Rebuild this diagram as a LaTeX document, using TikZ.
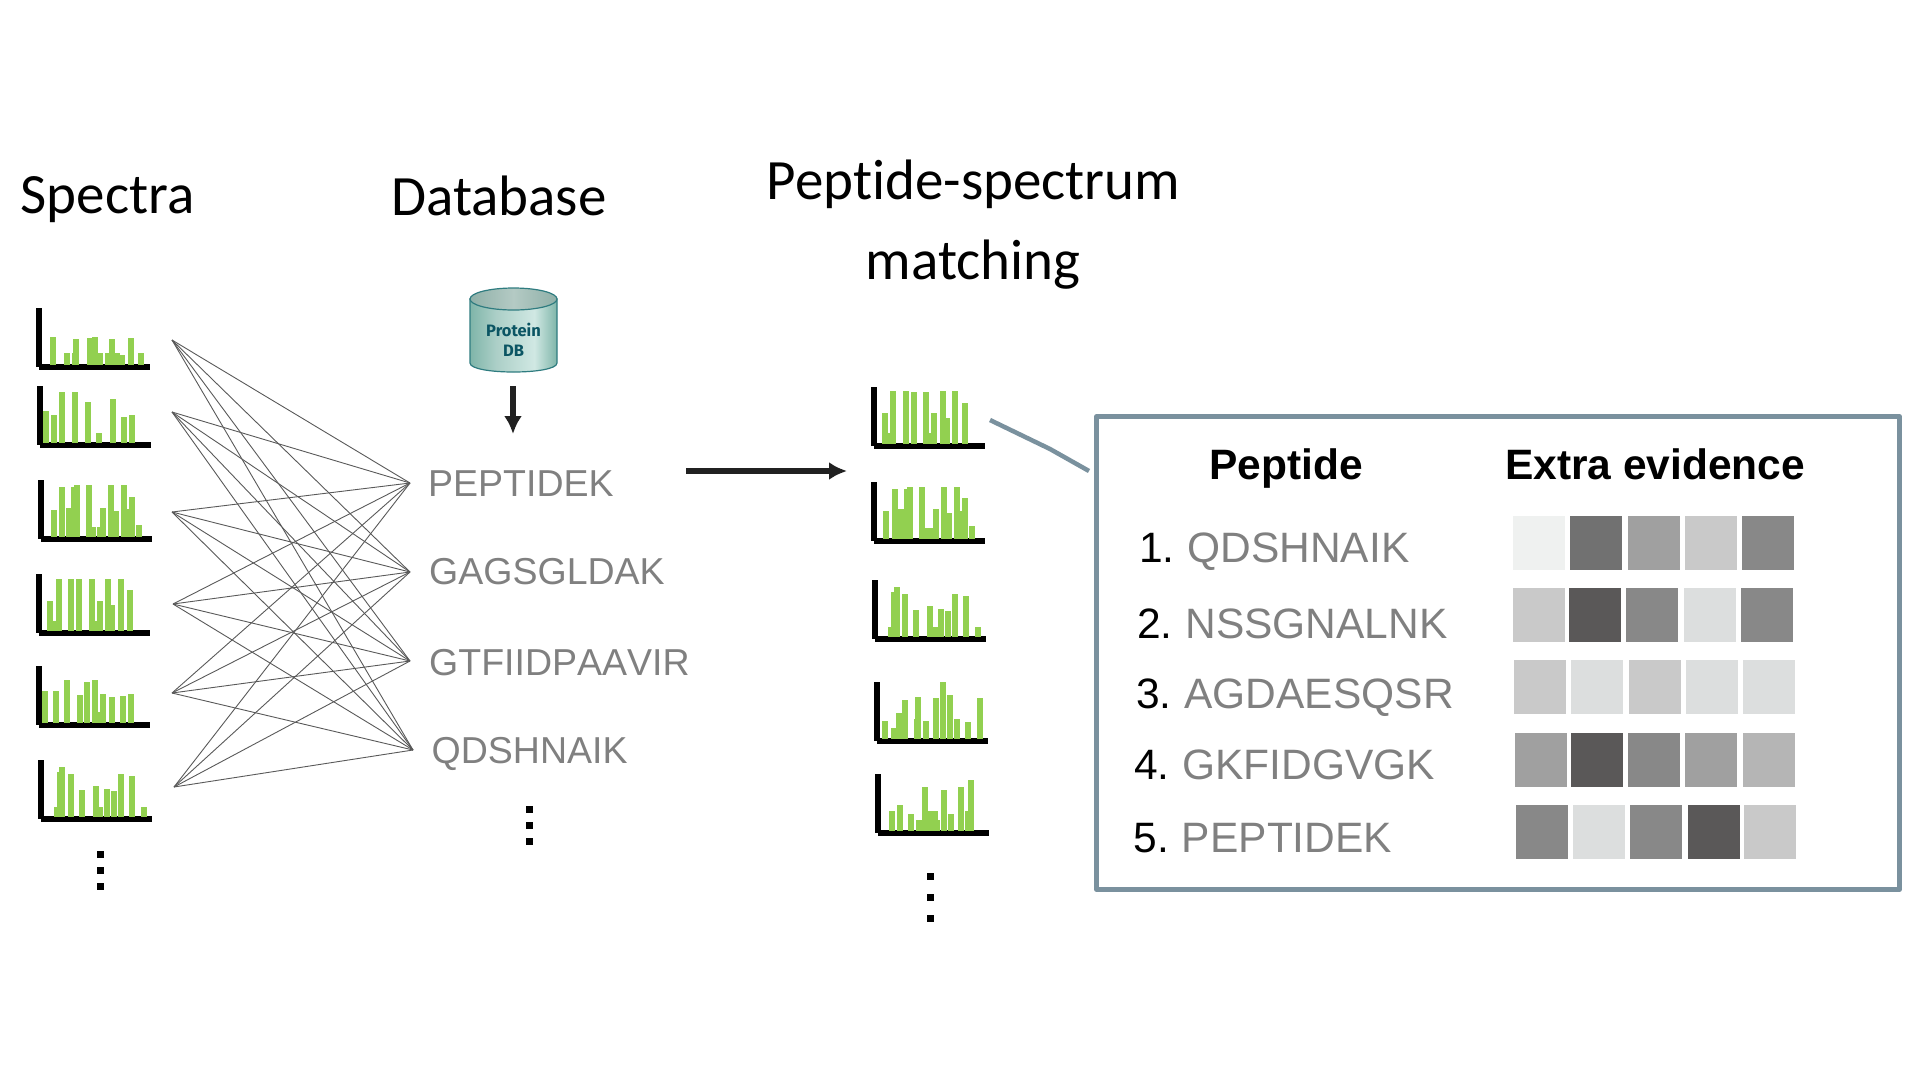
\documentclass[tikz,border=0pt]{standalone}
\usepackage{fontspec}
\setmainfont[Kerning=Off]{Liberation Sans}
\newfontfamily\titlefont[Ligatures=CommonOff]{Carlito}
\newfontfamily\dbfont{Fira Sans}
\usepackage{tikz}
\usetikzlibrary{arrows.meta,calc}
\definecolor{barcolor}{HTML}{92D050}
\definecolor{panelcolor}{HTML}{7A919E}
\definecolor{pepcolor}{HTML}{808080}
\definecolor{dbtext}{HTML}{0B5563}
\definecolor{dbedge}{HTML}{2F7C80}
\definecolor{dbside}{HTML}{7FB5A9}
\definecolor{dbmid}{HTML}{D0E8E3}
\definecolor{dbrim}{HTML}{8FB0A8}
\definecolor{dbcap}{HTML}{B4CAC4}
\definecolor{evA}{HTML}{EFF1F0}
\definecolor{evB}{HTML}{717171}
\definecolor{evC}{HTML}{A0A0A0}
\definecolor{evD}{HTML}{C9C9C9}
\definecolor{evE}{HTML}{888888}
\definecolor{evF}{HTML}{5A5858}
\definecolor{evG}{HTML}{DCDEDE}
\definecolor{evH}{HTML}{B5B5B5}
\pgfdeclarehorizontalshading{dbbody}{100bp}{color(0bp)=(dbside); color(25bp)=(dbside); color(40bp)=(white!35!dbside); color(62bp)=(dbmid); color(75bp)=(dbside); color(100bp)=(dbside)}
\pgfdeclarehorizontalshading{dbtop}{100bp}{color(0bp)=(dbrim); color(25bp)=(dbrim); color(50bp)=(dbcap); color(75bp)=(dbrim); color(100bp)=(dbrim)}
\tikzset{
	spectrumaxis/.style={fill=black},
	spectrumbar/.style={fill=barcolor},
	titletext/.style={inner sep=0pt, font=\titlefont\fontsize{57}{62}\selectfont},
	peptext/.style={inner sep=0pt, anchor=base west, text=pepcolor, font=\fontsize{37.5}{40}\selectfont},
	rowtext/.style={inner sep=0pt, anchor=base west, text=pepcolor, font=\fontsize{42.5}{46}\selectfont},
	headtext/.style={inner sep=0pt, anchor=base west, font=\bfseries\fontsize{42.5}{46}\selectfont},
	matchline/.style={draw=black!65, line width=0.9pt},
	bigarrow/.style={draw=black!87, line width=6pt, -{Latex[length=18pt,width=18pt]}},
	panelline/.style={draw=panelcolor, line width=4.5pt, line join=round},
}
\newcommand{\spectrum}[3]{
	\begin{scope}[shift={(#1,#2)}]
		\fill[spectrumaxis] (0,-62) rectangle (6,-3);
		\fill[spectrumaxis] (3,-6) rectangle (114,0);
		\foreach \a/\b in {#3}
			\fill[spectrumbar] (\a,-5) rectangle (\a+6,-\b);
	\end{scope}
}
\newcommand{\vdotsat}[4]{
	\foreach \d in {#2,#3,#4}
		\fill (#1-3.5,\d-3.5) rectangle (#1+3.5,\d+3.5);
}
\newcommand{\rownum}[1]{\textcolor{black}{#1}\kern1pt\ }
\begin{document}
\begin{tikzpicture}[x=1pt,y=-1pt]
	\useasboundingbox (0,0) rectangle (1914,1080);

	\node[titletext, anchor=base west] (spectratitle) at (20.5,213.5) {Spectra};
	\node[titletext, anchor=base west] (dbtitle) at (391,215.5) {Database};
	\node[titletext, anchor=base] (psmtitle) at (973.5,199.5) {Peptide-spectrum};
	\node[titletext, anchor=base] (psmtitletwo) at (973,279) {matching};

	\spectrum{36}{370}{14/33,28/17,36/17,37/31,51/32,56/33,61/17,69/17,73/31,78/17,83/15,92/32,102/17}
	\spectrum{37}{448}{6/37,14/33,22/56,35/56,48/46,59/15,73/49,84/31,92/33}
	\spectrum{38}{542}{13/32,21/55,28/34,33/55,36/57,48/57,52/15,59/15,62/34,70/57,75/31,83/57,88/33,91/45,98/17}
	\spectrum{36}{636}{11/35,16/15,20/57,32/57,40/57,53/57,58/15,61/35,69/57,73/31,82/57,91/46}
	\spectrum{36}{728}{6/37,17/37,28/48,41/33,48/46,56/48,61/16,64/34,73/31,84/32,92/34}
	\spectrum{38}{822}{16/15,19/50,21/55,30/48,41/32,55/36,59/15,66/33,73/31,80/48,91/46,103/15}
	\vdotsat{100}{854}{870}{886}

	\coordinate (s1) at (172,340);
	\coordinate (s2) at (172,412);
	\coordinate (s3) at (172,512);
	\coordinate (s4) at (173,604);
	\coordinate (s5) at (172,693);
	\coordinate (s6) at (174,787);
	\coordinate (t1) at (410,483);
	\coordinate (t2) at (410,572);
	\coordinate (t3) at (410,661);
	\coordinate (t4) at (413,750);
	\foreach \s in {1,...,6}
		\foreach \t in {1,...,4}
			\draw[matchline] (s\s) -- (t\t);

	\path[shading=dbbody, draw=dbedge, line width=1.2pt] (470,299) -- (470,363) .. controls (470,375) and (557,375) .. (557,363) -- (557,299) -- cycle;
	\path[shading=dbtop, draw=dbedge, line width=1.2pt] (513.5,299) ellipse [x radius=43.5, y radius=11];
	\node[inner sep=0pt, text=dbtext, font=\dbfont\bfseries\fontsize{16.5}{20}\selectfont] (dbone) at (513.5,330) {Protein};
	\node[inner sep=0pt, text=dbtext, font=\dbfont\bfseries\fontsize{16.5}{20}\selectfont] (dbtwo) at (513.5,350.5) {DB};
	\coordinate (dbstart) at (513,386);
	\coordinate (dbend) at (513,434);
	\draw[bigarrow] (dbstart) -- (dbend);

	\node[peptext] (pepa) at (428,496) {PEPTIDEK};
	\node[peptext] (pepb) at (429,584) {GAGSGLDAK};
	\node[peptext] (pepc) at (429,675) {GTFIIDPAAVIR};
	\node[peptext] (pepd) at (431.5,763) {QDSHNAIK};
	\vdotsat{529}{809}{825}{841}

	\coordinate (mainstart) at (686,471);
	\coordinate (mainend) at (847,471);
	\draw[bigarrow] (mainstart) -- (mainend);

	\spectrum{871}{449}{11/36,16/16,19/58,32/58,40/57,52/57,57/16,60/36,69/58,73/31,81/58,91/46}
	\spectrum{871}{544}{12/33,21/55,27/35,33/55,36/57,48/57,53/16,58/16,62/35,70/57,75/31,83/57,88/33,91/46,98/18}
	\spectrum{872}{642}{16/15,19/50,22/55,30/48,41/32,55/36,60/15,66/33,73/31,80/48,91/46,103/15}
	\spectrum{874}{744}{8/23,17/16,22/31,28/44,40/25,41/47,49/23,59/46,66/62,73/49,80/25,91/22,103/46}
	\spectrum{875}{836}{14/25,22/31,33/22,41/16,47/49,53/25,57/25,59/16,66/46,73/22,83/49,90/25,93/56}
	\vdotsat{930}{876}{897}{918}

	\coordinate (linka) at (990,420);
	\coordinate (linkb) at (1050,449);
	\coordinate (linkc) at (1089,471);
	\draw[panelline] (linka) -- (linkb) -- (linkc);
	\draw[panelline] (1096.5,416.5) rectangle (1899.5,889.5);

	\node[headtext] (pephead) at (1209,479) {Peptide};
	\node[headtext] (evhead) at (1505,479) {Extra evidence};

	\node[rowtext] (rowa) at (1139,562) {\rownum{1.}QDSHNAIK};
	\node[rowtext] (rowb) at (1137,638) {\rownum{2.}NSSGNALNK};
	\node[rowtext] (rowc) at (1136,708) {\rownum{3.}AGDAESQSR};
	\node[rowtext] (rowd) at (1134,779) {\rownum{4.}GKFIDGVGK};
	\node[rowtext] (rowe) at (1133.5,852) {\rownum{5.}PEPTIDEK};

	\foreach \x/\c in {1513/evA,1570/evB,1628/evC,1685/evD,1742/evE}
		\fill[\c] (\x,516) rectangle (\x+52,570);
	\foreach \x/\c in {1513/evD,1569/evF,1626/evE,1684/evG,1741/evE}
		\fill[\c] (\x,588) rectangle (\x+52,642);
	\foreach \x/\c in {1514/evD,1571/evG,1629/evD,1686/evG,1743/evG}
		\fill[\c] (\x,660) rectangle (\x+52,714);
	\foreach \x/\c in {1515/evC,1571/evF,1628/evE,1685/evC,1743/evH}
		\fill[\c] (\x,733) rectangle (\x+52,787);
	\foreach \x/\c in {1516/evE,1573/evG,1630/evE,1688/evF,1744/evD}
		\fill[\c] (\x,805) rectangle (\x+52,859);
\end{tikzpicture}
\end{document}
